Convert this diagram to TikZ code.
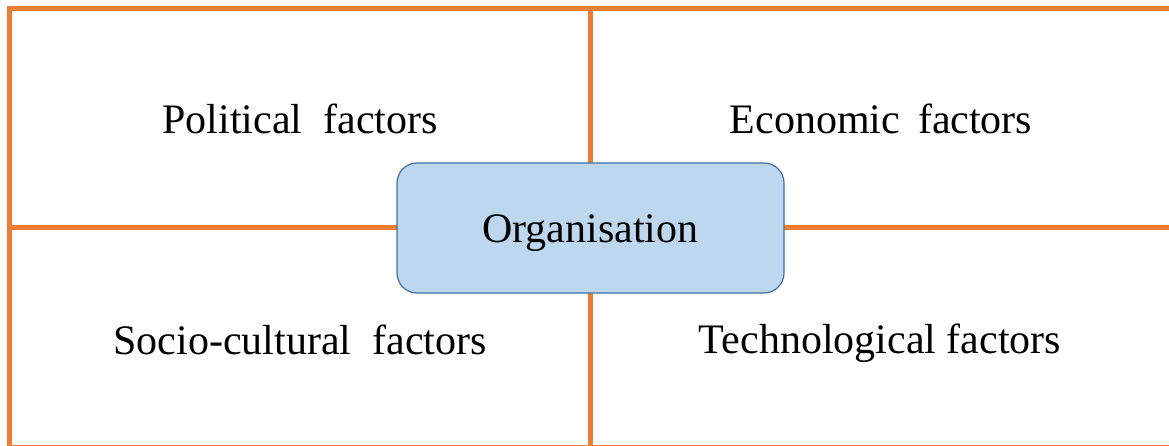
\documentclass[tikz,border=0pt]{standalone}
\usepackage{fontspec}
\setmainfont{Liberation Serif}
\definecolor{gridorange}{HTML}{ED7D31}
\definecolor{orgfill}{HTML}{BDD7EE}
\definecolor{orgline}{HTML}{41719C}
\tikzset{
  grid line/.style={draw=gridorange, line width=5pt},
  factor/.style={anchor=base, font=\fontsize{42}{50}\selectfont},
  orgbox/.style={draw=orgline, line width=1.2pt, fill=orgfill, rounded corners=20pt,
    minimum width=387pt, minimum height=130pt, text height=30pt, text depth=0pt,
    font=\fontsize{42}{50}\selectfont}
}
\begin{document}
\begin{tikzpicture}[x=1pt, y=-1pt]
  \useasboundingbox (0,0) rectangle (1169,446);
  % grid corners
  \coordinate (tl) at (9.5, 8.5);
  \coordinate (tm) at (590, 8.5);
  \coordinate (tr) at (1175, 8.5);
  \coordinate (ml) at (9.5, 228);
  \coordinate (mr) at (1175, 228);
  \coordinate (bl) at (9.5, 447.5);
  \coordinate (bm) at (590, 447.5);
  \coordinate (br) at (1175, 447.5);
  \draw[grid line] (bl) -- (tl) -- (tr) -- (br) -- cycle;
  \draw[grid line] (tm) -- (bm);
  \draw[grid line] (ml) -- (mr);
  % factors
  \node[factor] (pol) at (300, 134) {Political\ \ factors};
  \node[factor] (eco) at (881, 134) {Economic\hspace{18pt}factors};
  \node[factor] (soc) at (300, 354) {Socio-cultural\hspace{21pt}factors};
  \node[factor] (tec) at (880, 353) {Technological\ factors};
  % centre
  \node[orgbox] (org) at (590.5, 228) {Organisation};
\end{tikzpicture}
\end{document}
